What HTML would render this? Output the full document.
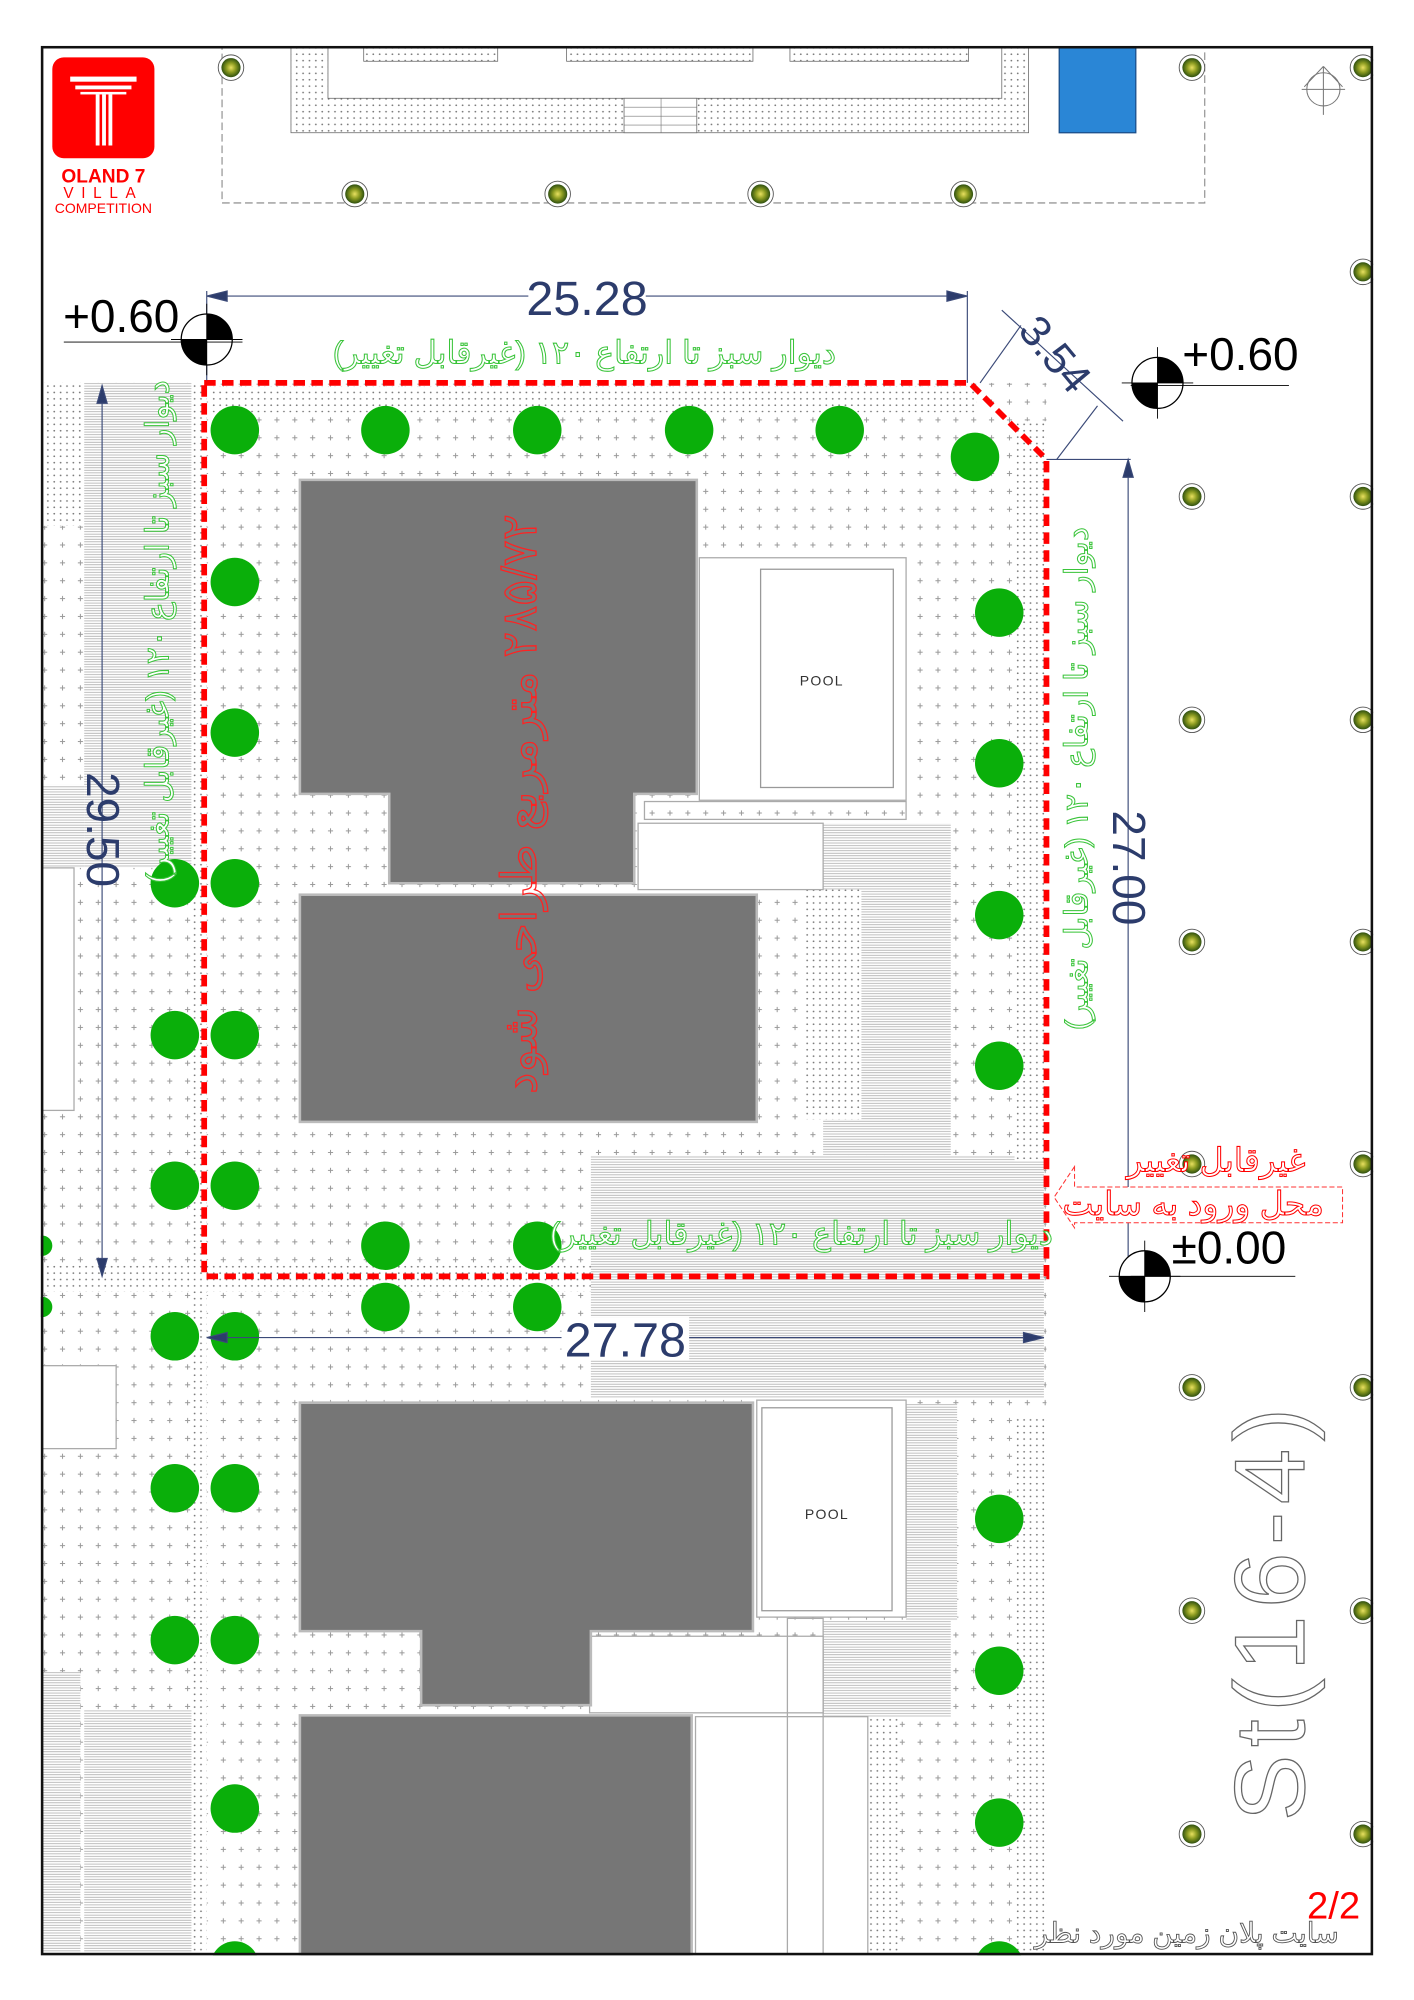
<!DOCTYPE html>
<html><head><meta charset="utf-8"><style>
html,body{margin:0;padding:0;background:#fff;}
svg{display:block;}
text{font-family:"Liberation Sans","Noto Sans CJK SC",sans-serif;}
</style></head><body>
<svg width="1414" height="2000" viewBox="0 0 1108 1567" preserveAspectRatio="none" xmlns="http://www.w3.org/2000/svg">
<defs>
<pattern id="plus" width="14" height="14" patternUnits="userSpaceOnUse">
<rect width="14" height="14" fill="#fff"/>
<path d="M5 7h4M7 5v4" stroke="#9a9a9a" stroke-width="0.8"/>
</pattern>
<pattern id="dots" width="5" height="5" patternUnits="userSpaceOnUse">
<rect width="5" height="5" fill="#fff"/>
<circle cx="2.5" cy="2.5" r="0.7" fill="#777"/>
</pattern>
<pattern id="hl" width="4" height="2" patternUnits="userSpaceOnUse">
<rect width="4" height="2" fill="#fff"/>
<path d="M0 0.5h4" stroke="#aaa" stroke-width="0.6"/>
</pattern>
<radialGradient id="lg"><stop offset="0" stop-color="#e8e060"/><stop offset="0.5" stop-color="#8a9a20"/><stop offset="1" stop-color="#2f5010"/></radialGradient>
<g id="lp"><circle cx="0" cy="0" r="10" fill="#fff" stroke="#555" stroke-width="0.7"/><circle cx="0" cy="0" r="7.5" fill="url(#lg)"/></g>
<g id="em"><circle cx="0" cy="0" r="20" fill="#fff" stroke="#000"/><path d="M0 -20A20 20 0 0 1 20 0H0Z M0 20A20 20 0 0 1 -20 0H0Z" fill="#000"/><path d="M-28 0H28M0 -28V28" stroke="#000" stroke-width="0.7"/></g>
</defs>
<rect width="1108" height="1567" fill="#fff"/>

<!-- site ground -->
<rect x="33" y="300" width="787" height="1231" fill="url(#plus)"/>
<rect x="33" y="300" width="33" height="112" fill="url(#dots)"/>
<rect x="66" y="300" width="84" height="380" fill="url(#hl)"/>
<rect x="33" y="615" width="33" height="65" fill="url(#hl)"/>
<rect x="150" y="300" width="12" height="1231" fill="url(#dots)"/>
<rect x="33" y="990" width="430" height="22" fill="url(#dots)"/>
<rect x="33" y="1070" width="58" height="65" fill="#fff" stroke="#aaa"/>
<rect x="33" y="680" width="25" height="190" fill="#fff" stroke="#aaa"/>
<rect x="33" y="1310" width="30" height="221" fill="url(#hl)"/>
<rect x="66" y="1340" width="84" height="191" fill="url(#hl)"/>
<rect x="463" y="905" width="355" height="190" fill="url(#hl)"/>
<rect x="645" y="645" width="100" height="260" fill="url(#hl)"/>
<rect x="795" y="330" width="25" height="580" fill="url(#dots)"/>
<rect x="795" y="1110" width="25" height="421" fill="url(#dots)"/>
<rect x="165" y="303" width="600" height="20" fill="url(#dots)"/>
<rect x="630" y="697" width="45" height="180" fill="url(#dots)"/>
<rect x="680" y="1345" width="25" height="186" fill="url(#dots)"/>
<rect x="645" y="1270" width="100" height="75" fill="url(#hl)"/>
<rect x="710" y="1100" width="40" height="170" fill="url(#hl)"/>

<!-- white zones -->
<rect x="500" y="645" width="145" height="52" fill="#fff" stroke="#aaa"/>
<rect x="548" y="437" width="162" height="190" fill="#fff" stroke="#aaa"/>
<rect x="596" y="446" width="104" height="171" fill="#fff" stroke="#999"/>
<text x="644" y="537" font-size="11" text-anchor="middle" fill="#333" letter-spacing="1">POOL</text>
<rect x="505" y="628" width="205" height="14" fill="url(#plus)" stroke="#aaa"/>
<rect x="593" y="1097" width="117" height="170" fill="#fff" stroke="#aaa"/>
<rect x="597" y="1103" width="102" height="159" fill="#fff" stroke="#999"/>
<text x="648" y="1190" font-size="11" text-anchor="middle" fill="#333" letter-spacing="1">POOL</text>
<rect x="462" y="1282" width="183" height="60" fill="#fff" stroke="#aaa"/>
<rect x="545" y="1345" width="135" height="186" fill="#fff" stroke="#aaa"/>
<rect x="617" y="1268" width="28" height="263" fill="none" stroke="#aaa"/>

<!-- buildings -->
<g fill="#767676" stroke="#bbb" stroke-width="2">
<path d="M235 376H546V622H497V692H305V622H235Z"/>
<rect x="235" y="701" width="358" height="178"/>
<path d="M235 1099H590V1278H463V1336H330V1278H235Z"/>
<rect x="235" y="1344" width="307" height="190"/>
</g>

<!-- top area -->
<rect x="174" y="37" width="770" height="122" fill="none" stroke="#999" stroke-dasharray="6,3"/>
<rect x="228" y="37" width="578" height="67" fill="url(#dots)" stroke="#666" stroke-width="0.6"/>
<rect x="257" y="37" width="528" height="40" fill="#fff" stroke="#666" stroke-width="0.6"/>
<rect x="489" y="77" width="57" height="27" fill="#fff" stroke="#666" stroke-width="0.6"/>
<path d="M489 84h57M489 91h57M489 98h57M518 77v27" stroke="#777" stroke-width="0.5"/>
<rect x="285" y="37" width="105" height="11" fill="url(#dots)" stroke="#666" stroke-width="0.6"/>
<rect x="444" y="37" width="146" height="11" fill="url(#dots)" stroke="#666" stroke-width="0.6"/>
<rect x="619" y="37" width="140" height="11" fill="url(#dots)" stroke="#666" stroke-width="0.6"/>
<rect x="830" y="37" width="60" height="67" fill="#2a86d6" stroke="#1b4f8a"/>

<!-- compass -->
<g stroke="#777" fill="none" stroke-width="0.8"><circle cx="1037" cy="70" r="13"/><path d="M1037 52v38M1020 70h34M1037 52l-15 16M1037 52l15 16"/></g>

<!-- lamps -->
<use href="#lp" x="181" y="53"/><use href="#lp" x="934" y="53"/>
<use href="#lp" x="278" y="152"/><use href="#lp" x="437" y="152"/><use href="#lp" x="596" y="152"/><use href="#lp" x="755" y="152"/>
<use href="#lp" x="934" y="389"/><use href="#lp" x="934" y="564"/><use href="#lp" x="934" y="738"/><use href="#lp" x="934" y="912"/><use href="#lp" x="934" y="1087"/><use href="#lp" x="934" y="1262"/><use href="#lp" x="934" y="1437"/>
<use href="#lp" x="1068" y="53"/><use href="#lp" x="1068" y="213"/><use href="#lp" x="1068" y="389"/><use href="#lp" x="1068" y="564"/><use href="#lp" x="1068" y="738"/><use href="#lp" x="1068" y="912"/><use href="#lp" x="1068" y="1087"/><use href="#lp" x="1068" y="1262"/><use href="#lp" x="1068" y="1437"/>
<rect x="1076" y="0" width="32" height="1567" fill="#fff"/>

<!-- trees -->
<g fill="#0aaf0a">
<circle cx="184" cy="337" r="19"/><circle cx="302" cy="337" r="19"/><circle cx="421" cy="337" r="19"/><circle cx="540" cy="337" r="19"/><circle cx="658" cy="337" r="19"/><circle cx="764" cy="358" r="19"/>
<circle cx="184" cy="456" r="19"/><circle cx="184" cy="574" r="19"/>
<circle cx="137" cy="692" r="19"/><circle cx="184" cy="692" r="19"/>
<circle cx="137" cy="811" r="19"/><circle cx="184" cy="811" r="19"/>
<circle cx="137" cy="929" r="19"/><circle cx="184" cy="929" r="19"/>
<circle cx="302" cy="976" r="19"/><circle cx="421" cy="976" r="19"/>
<circle cx="302" cy="1024" r="19"/><circle cx="421" cy="1024" r="19"/>
<circle cx="137" cy="1047" r="19"/><circle cx="184" cy="1047" r="19"/>
<circle cx="783" cy="480" r="19"/><circle cx="783" cy="598" r="19"/><circle cx="783" cy="717" r="19"/><circle cx="783" cy="835" r="19"/>
<circle cx="137" cy="1166" r="19"/><circle cx="184" cy="1166" r="19"/>
<circle cx="137" cy="1285" r="19"/><circle cx="184" cy="1285" r="19"/>
<circle cx="184" cy="1417" r="19"/>
<circle cx="783" cy="1190" r="19"/><circle cx="783" cy="1309" r="19"/><circle cx="783" cy="1428" r="19"/>
<circle cx="184" cy="1540" r="19"/><circle cx="783" cy="1540" r="19"/>
<circle cx="33" cy="976" r="8"/><circle cx="33" cy="1024" r="8"/>
</g>
<rect x="0" y="1532" width="1108" height="35" fill="#fff"/>
<rect x="0" y="0" width="32" height="1567" fill="#fff"/>

<!-- red boundary -->
<path d="M160 300H760L820 360V1000H160Z" fill="none" stroke="#f00" stroke-width="4.5" stroke-dasharray="9,5"/>

<!-- dimensions -->
<g stroke="#3b4a78" stroke-width="0.9" fill="#2c3c6c">
<path d="M162 232H758M162 228v70M758 228v72" fill="none"/>
<path d="M162 232l16-4v8zM758 232l-16-4v8z"/>
<path d="M884 360V1000M820 360h66" fill="none"/>
<path d="M884 360l-4 14h8z"/>
<path d="M80 302V1000" fill="none"/><path d="M80 302l-4 14h8zM80 1000l-4-14h8z"/>
<path d="M162 1048H818" fill="none"/><path d="M162 1048l16-4v8zM818 1048l-16-4v8z"/>
<path d="M768 300L800 255M828 360L860 318M785 243L880 330" fill="none"/>
</g>
<g fill="#2c3c6c" font-family="Liberation Serif,serif">
<rect x="414" y="215" width="92" height="34" fill="#fff"/>
<text x="460" y="247" font-size="38" text-anchor="middle">25.28</text>
<rect x="440" y="1032" width="100" height="34" fill="#fff"/>
<text x="490" y="1063" font-size="38" text-anchor="middle">27.78</text>
<text transform="translate(872,680) rotate(90)" font-size="36" text-anchor="middle">27.00</text>
<text transform="translate(68,650) rotate(90)" font-size="36" text-anchor="middle">29.50</text>
<text transform="translate(818,285) rotate(50)" font-size="34" text-anchor="middle">3.54</text>
</g>

<!-- elevation markers -->
<use href="#em" x="162" y="266"/>
<use href="#em" x="907" y="300"/>
<use href="#em" x="897" y="1000"/>
<path d="M50 268H190M886 302H1010M886 1000H1015" stroke="#000" stroke-width="0.7"/>
<g font-family="Liberation Sans,sans-serif" fill="#000">
<text x="95" y="260" font-size="36" text-anchor="middle">+0.60</text>
<text x="972" y="290" font-size="36" text-anchor="middle">+0.60</text>
<text x="963" y="990" font-size="36" text-anchor="middle">±0.00</text>
</g>

<!-- green labels -->
<g fill="#fff" stroke="#3ac43a" stroke-width="0.8" font-family="Liberation Sans,'Noto Sans CJK SC',sans-serif" font-size="25">
<text x="458" y="285" text-anchor="middle" direction="rtl">دیوار سبز تا ارتفاع ۱۲۰ (غیرقابل تغییر)</text>
<text x="628" y="975" text-anchor="middle" direction="rtl">دیوار سبز تا ارتفاع ۱۲۰ (غیرقابل تغییر)</text>
<text transform="translate(132,495) rotate(-90)" text-anchor="middle" direction="rtl">دیوار سبز تا ارتفاع ۱۲۰ (غیرقابل تغییر)</text>
<text transform="translate(852,610) rotate(-90)" text-anchor="middle" direction="rtl">دیوار سبز تا ارتفاع ۱۲۰ (غیرقابل تغییر)</text>
</g>
<text transform="translate(420,630) rotate(-90)" text-anchor="middle" direction="rtl" font-size="38" fill="none" stroke="#f22" stroke-width="1" font-family="Liberation Sans,'Noto Sans CJK SC',sans-serif">۲۸۵/۷۲ مترمربع طراحی شود</text>

<!-- entrance -->
<path d="M842 914L826 938L842 962V958H1052V930H842Z" fill="#fff" stroke="#f33" stroke-width="0.8" stroke-dasharray="4,2"/>
<text x="953" y="918" font-size="26" fill="#fff" stroke="#f00" stroke-width="0.8" text-anchor="middle" direction="rtl">غیرقابل تغییر</text>
<text x="935" y="952" font-size="26" fill="#fff" stroke="#f00" stroke-width="0.8" text-anchor="middle" direction="rtl">محل ورود به سایت</text>

<!-- street label -->
<text transform="translate(1022,1262) rotate(-90)" font-size="78" fill="#fff" stroke="#666" stroke-width="1" text-anchor="middle" font-family="Liberation Sans,sans-serif" letter-spacing="6">St(16-4)</text>

<!-- title block -->
<text x="1045" y="1503" font-size="30" fill="#f00" text-anchor="middle" font-family="Liberation Serif,serif">2/2</text>
<text x="930" y="1522" font-size="22" fill="#fff" stroke="#555" stroke-width="0.7" text-anchor="middle" direction="rtl">سایت پلان زمین مورد نظر</text>

<!-- frame -->
<rect x="33" y="37" width="1042" height="1494" fill="none" stroke="#111" stroke-width="2"/>

<!-- logo -->
<rect x="41" y="45" width="80" height="79" rx="9" fill="#f00"/>
<g fill="#fff"><rect x="55" y="60" width="52" height="4"/><rect x="59" y="67" width="44" height="3"/><rect x="63" y="72" width="36" height="2"/><rect x="75" y="74" width="3" height="40"/><rect x="80" y="74" width="3" height="40"/><rect x="85" y="74" width="3" height="40"/></g>
<text x="81" y="143" font-size="15" fill="#f00" text-anchor="middle" font-weight="bold">OLAND 7</text>
<text x="81" y="155" font-size="12" fill="#f00" text-anchor="middle" letter-spacing="6">VILLA</text>
<text x="81" y="167" font-size="11" fill="#f00" text-anchor="middle">COMPETITION</text>
</svg>
</body></html>
